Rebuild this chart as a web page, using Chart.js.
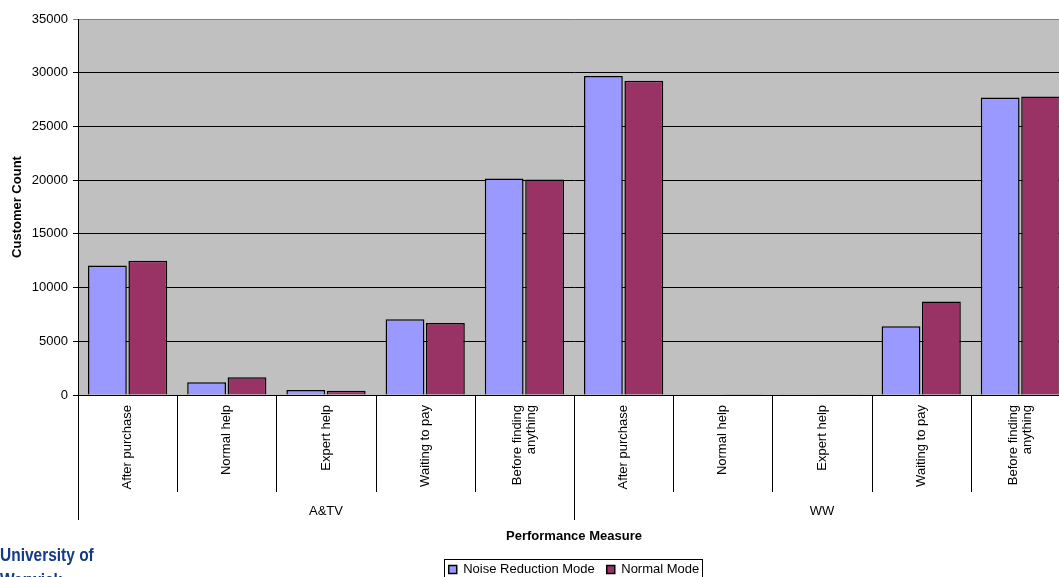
<!DOCTYPE html>
<html>
<head>
<meta charset="utf-8">
<title>Customer Count by Performance Measure</title>
<script src="https://cdn.jsdelivr.net/npm/chart.js@4.4.1/dist/chart.umd.min.js"></script>
<style>
  html, body { margin: 0; padding: 0; background: #fff; overflow: hidden; width: 1059px; height: 577px; }
  #wrap { position: absolute; left: 0; top: 0; width: 1078px; height: 586px; }
  #logo {
    position: absolute; left: 0; top: 543px;
    font-family: "Liberation Sans", Arial, sans-serif;
    font-weight: bold; font-size: 18px; line-height: 25px; color: #123b8a;
    transform: scaleX(0.86); transform-origin: 0 0; white-space: nowrap;
  }
</style>
</head>
<body>
<div id="wrap"><canvas id="chart" width="1078" height="586"></canvas></div>
<div id="logo">University of<br>Warwick</div>
<script>
// Departments (outer axis level) and measures (inner axis level)
const departments = ['A&TV', 'WW'];
const measures = [['After purchase'], ['Normal help'], ['Expert help'], ['Waiting to pay'], ['Before finding', 'anything']];

// Customer counts per department/measure, in the order above
const noiseReductionMode = [12050, 1180, 470, 7050, 20150, 29700, 0, 80, 6400, 27700];
const normalMode = [12500, 1650, 400, 6700, 20050, 29250, 30, 70, 8700, 27780];

// Value axis
const yMin = 0;
const yMax = 35000;
const yStep = 5000;

const categories = [];
departments.forEach(() => measures.forEach(m => categories.push(m)));

const FONT = "'Liberation Sans', Arial, sans-serif";
Chart.defaults.font.family = FONT;
Chart.defaults.color = '#000';

// Grey plot area behind the bars
const plotBackground = {
  id: 'plotBackground',
  beforeDraw(chart) {
    const { ctx, chartArea: a } = chart;
    ctx.save();
    ctx.fillStyle = '#c0c0c0';
    ctx.fillRect(a.left, a.top, a.right - a.left, a.bottom - a.top);
    ctx.restore();
  }
};

// Two-level category axis: vertical measure labels, separators,
// department labels, and the frame around the legend
const groupedAxis = {
  id: 'groupedAxis',
  afterDraw(chart) {
    const { ctx } = chart;
    const x = chart.scales.x;
    const base = chart.chartArea.bottom;
    const step = x.getPixelForValue(1) - x.getPixelForValue(0);
    const per = measures.length;
    ctx.save();
    ctx.strokeStyle = '#000';
    ctx.lineWidth = 1;
    for (let i = 0; i <= categories.length; i++) {
      const px = Math.round(x.getPixelForValue(i) - step / 2) + 0.5;
      const isGroupEdge = i % per === 0;
      ctx.beginPath();
      ctx.moveTo(px, base);
      ctx.lineTo(px, base + (isGroupEdge ? 125 : 97));
      ctx.stroke();
    }

    ctx.fillStyle = '#000';
    ctx.font = '13px ' + FONT;

    // measure labels, read bottom-to-top, hanging from the axis
    const lineGap = 14.5;
    categories.forEach((lines, i) => {
      const cx = x.getPixelForValue(i);
      lines.forEach((txt, k) => {
        const off = (k - (lines.length - 1) / 2) * lineGap;
        ctx.save();
        ctx.translate(cx + off, base + 10);
        ctx.rotate(-Math.PI / 2);
        ctx.textAlign = 'right';
        ctx.textBaseline = 'middle';
        ctx.fillText(txt, 0, 0);
        ctx.restore();
      });
    });

    ctx.textAlign = 'center';
    ctx.textBaseline = 'middle';
    departments.forEach((d, g) => {
      const l = x.getPixelForValue(g * per) - step / 2;
      const r = x.getPixelForValue(g * per + per - 1) + step / 2;
      ctx.fillText(d, (l + r) / 2, base + 116.5);
    });

    // frame around the legend entries
    const lg = chart.legend;
    if (lg && lg.legendHitBoxes && lg.legendHitBoxes.length) {
      const hb = lg.legendHitBoxes;
      const left = Math.min(...hb.map(h => h.left)) - 5;
      const right = Math.max(...hb.map(h => h.left + h.width)) + 2;
      const top = hb[0].top - 4;
      const h = hb[0].height + 8;
      ctx.strokeStyle = '#000';
      ctx.strokeRect(Math.round(left) + 0.5, Math.round(top) + 0.5, Math.round(right - left), Math.round(h));
    }
    ctx.restore();
  }
};

new Chart(document.getElementById('chart'), {
  type: 'bar',
  data: {
    labels: categories,
    datasets: [
      {
        label: 'Noise Reduction Mode',
        data: noiseReductionMode,
        backgroundColor: '#9999ff',
        borderColor: '#000',
        borderWidth: 1.5,
        barPercentage: 0.96,
        categoryPercentage: 0.815
      },
      {
        label: 'Normal Mode',
        data: normalMode,
        backgroundColor: '#993366',
        borderColor: '#000',
        borderWidth: 1.5,
        barPercentage: 0.96,
        categoryPercentage: 0.815
      }
    ]
  },
  options: {
    responsive: false,
    animation: false,
    layout: { padding: { top: 19, right: 8, left: 0, bottom: 0 } },
    plugins: {
      legend: {
        position: 'bottom',
        fullSize: false,
        labels: {
          boxWidth: 8,
          boxHeight: 8,
          padding: 12,
          color: '#000',
          font: { family: FONT, size: 13 }
        }
      },
      tooltip: { enabled: false }
    },
    scales: {
      x: {
        grid: { display: false, drawTicks: false },
        border: { display: true, color: '#000', width: 1 },
        ticks: { display: false },
        title: {
          display: true,
          text: 'Performance Measure',
          color: '#000',
          font: { family: FONT, size: 13, weight: 'bold' },
          padding: { top: 0, bottom: 7 }
        },
        afterFit(scale) { scale.height = 156; }
      },
      y: {
        min: yMin,
        max: yMax,
        ticks: {
          stepSize: yStep,
          padding: 5,
          color: '#000',
          font: { family: FONT, size: 13 },
          callback: v => String(v)
        },
        grid: {
          color: c => (c.tick && c.tick.value === yMax ? '#808080' : '#000'),
          lineWidth: 1,
          drawTicks: true,
          tickLength: 5
        },
        border: { display: true, color: '#000', width: 1 },
        title: {
          display: true,
          text: 'Customer Count',
          color: '#000',
          font: { family: FONT, size: 13, weight: 'bold' },
          padding: { top: 10, bottom: 0 }
        },
        afterFit(scale) { scale.width = 78; }
      }
    }
  },
  plugins: [plotBackground, groupedAxis]
});
</script>
</body>
</html>
